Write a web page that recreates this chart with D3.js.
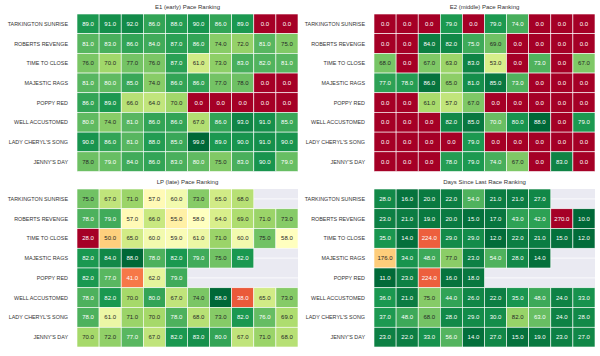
<!DOCTYPE html>
<html><head><meta charset="utf-8">
<script src="https://cdn.jsdelivr.net/npm/d3@7"></script>
<style>body{margin:0;background:#fff}svg{display:block}</style>
</head><body>
<script>
const horses = ["TARKINGTON SUNRISE","ROBERTS REVENGE","TIME TO CLOSE","MAJESTIC RAGS","POPPY RED","WELL ACCUSTOMED","LADY CHERYL'S SONG","JENNY'S DAY"];
const titles = ["E1 (early) Pace Ranking","E2 (middle) Pace Ranking","LP (late) Pace Ranking","Days Since Last Race Ranking"];
const e1 = [
 [89,91,92,86,88,90,86,89,0,0],
 [81,83,86,84,87,86,74,72,81,75],
 [76,70,77,76,87,61,73,83,82,81],
 [81,80,85,74,86,86,77,78,0,0],
 [86,89,66,64,70,0,0,0,0,0],
 [80,74,81,86,86,67,86,93,91,85],
 [90,86,81,88,85,99,89,90,91,90],
 [78,79,84,86,83,80,75,83,90,79]];
const e2 = [
 [0,0,0,79,0,79,74,0,0,0],
 [0,0,84,82,75,69,0,0,0,0],
 [68,0,67,63,83,53,0,73,0,67],
 [77,78,86,65,81,85,73,0,0,0],
 [0,0,61,57,67,0,0,0,0,0],
 [0,0,0,82,85,70,80,88,0,79],
 [0,0,0,0,79,0,0,0,0,0],
 [0,0,0,78,79,74,67,0,83,0]];
const lp = [
 [75,67,71,57,60,73,65,68,null,null],
 [78,79,57,66,55,58,64,69,71,73],
 [28,50,65,60,59,61,71,60,75,58],
 [82,84,88,78,82,79,75,82,null,null],
 [82,77,41,62,79,null,null,null,null,null],
 [78,82,70,80,67,74,88,38,65,73],
 [78,61,71,70,78,68,73,82,76,69],
 [70,72,77,67,82,83,80,67,71,68]];
const days = [
 [28,16,20,22,54,21,21,27,null,null],
 [23,21,19,20,15,17,43,42,270,10],
 [35,14,224,29,29,12,22,21,15,12],
 [176,34,48,77,23,54,28,14,null,null],
 [11,23,224,16,18,null,null,null,null,null],
 [36,21,75,44,26,22,35,48,24,33],
 [37,48,68,28,29,30,82,63,24,28],
 [23,22,33,56,14,27,15,19,23,27]];
const races = d3.range(10);

const W=600,H=356;
const svg=d3.select("body").append("svg").attr("width",W).attr("height",H);
const font="'Liberation Sans', Arial, sans-serif";
const rdylgn=d3.piecewise(d3.interpolateRgb, d3.schemeRdYlGn[11]);

const panels=[
 {data:e1,x0:77,x1:298,y0:14,y1:171.5,rev:false},
 {data:e2,x0:374,x1:595,y0:14,y1:171.5,rev:false},
 {data:lp,x0:77,x1:298,y0:189,y1:347,rev:false},
 {data:days,x0:374,x1:595,y0:189,y1:347,rev:true}];

function lum(c){const r=d3.rgb(c);const f=v=>{v/=255;return v<=0.03928?v/12.92:Math.pow((v+0.055)/1.055,2.4)};return 0.2126*f(r.r)+0.7152*f(r.g)+0.0722*f(r.b);}

panels.forEach((p,i)=>{
 const g=svg.append("g");
 const x=d3.scaleBand().domain(races).range([p.x0,p.x1]);
 const y=d3.scaleBand().domain(horses).range([p.y0,p.y1]);
 const vals=p.data.flat().filter(v=>v!==null);
 const ext=d3.extent(vals);
 const c=d3.scaleSequential(p.rev?t=>rdylgn(1-t):rdylgn).domain(ext);
 g.append("rect").attr("x",p.x0).attr("y",p.y0).attr("width",p.x1-p.x0).attr("height",p.y1-p.y0).attr("fill","#eaeaf2");
 horses.forEach(h=>{g.append("line").attr("x1",p.x0).attr("x2",p.x1).attr("y1",y(h)+y.bandwidth()/2).attr("y2",y(h)+y.bandwidth()/2).attr("stroke","#fff").attr("stroke-width",0.8);});
 const cells=[];
 p.data.forEach((row,r)=>row.forEach((v,k)=>{if(v!==null)cells.push({r,k,v});}));
 g.selectAll("rect.c").data(cells).join("rect").attr("class","c")
  .attr("x",d=>x(d.k)).attr("y",d=>y(horses[d.r])).attr("width",x.bandwidth()).attr("height",y.bandwidth())
  .attr("fill",d=>c(d.v)).attr("stroke","#fff").attr("stroke-width",0.6);
 g.selectAll("text.v").data(cells).join("text").attr("class","v")
  .attr("x",d=>x(d.k)+x.bandwidth()/2).attr("y",d=>y(horses[d.r])+y.bandwidth()/2)
  .attr("text-anchor","middle").attr("dominant-baseline","central")
  .attr("font-family",font).attr("font-size",6)
  .attr("fill",d=>lum(c(d.v))>0.408?"#262626":"#ffffff")
  .text(d=>d.v.toFixed(1));
 g.selectAll("text.h").data(horses).join("text").attr("class","h")
  .attr("x",p.x0-9).attr("y",d=>y(d)+y.bandwidth()/2).attr("text-anchor","end").attr("dominant-baseline","central")
  .attr("font-family",font).attr("font-size",5.4).attr("fill","#333").text(d=>d);
 g.append("text").attr("x",(p.x0+p.x1)/2).attr("y",p.y0-7.5).attr("text-anchor","middle").attr("dominant-baseline","central")
  .attr("font-family",font).attr("font-size",6).attr("fill","#333").text(titles[i]);
});
</script>
</body></html>
